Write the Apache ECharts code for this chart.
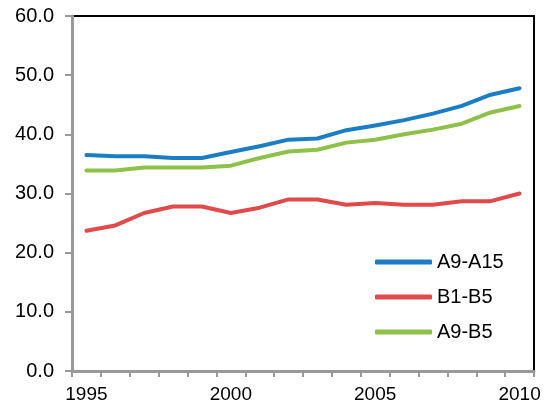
<!DOCTYPE html>
<html>
<head>
<meta charset="utf-8">
<script src="https://cdn.jsdelivr.net/npm/echarts@6/dist/echarts.min.js"></script>
<style>
  html, body { margin: 0; padding: 0; background: #fff; }
  #chart { width: 546px; height: 408px; }
</style>
</head>
<body>
<div id="chart"></div>
<script>
// Years on the horizontal axis
const years = ['1995','1996','1997','1998','1999','2000','2001','2002',
               '2003','2004','2005','2006','2007','2008','2009','2010'];

// Series values
const seriesNames = ['A9-A15', 'B1-B5', 'A9-B5'];
const a9a15 = [36.5, 36.3, 36.3, 36.0, 36.0, 37.0, 38.0, 39.1, 39.3, 40.7, 41.5, 42.4, 43.5, 44.8, 46.7, 47.8];
const b1b5  = [23.7, 24.6, 26.7, 27.8, 27.8, 26.7, 27.6, 29.0, 29.0, 28.1, 28.4, 28.1, 28.1, 28.7, 28.7, 30.0];
const a9b5  = [33.9, 33.9, 34.4, 34.4, 34.4, 34.7, 36.0, 37.1, 37.4, 38.6, 39.1, 40.0, 40.8, 41.8, 43.7, 44.8];

// Value axis range
const yMin = 0, yMax = 60, yStep = 10;

const colors = ['#1b7dc4', '#e04a4a', '#8dc149'];
const FONT = '"Liberation Sans", Arial, sans-serif';

const chart = echarts.init(document.getElementById('chart'), null, { renderer: 'canvas' });

function lineSeries(name, data, color) {
  return {
    name: name,
    type: 'line',
    data: data,
    symbol: 'none',
    smooth: false,
    lineStyle: { color: color, width: 4, cap: 'round', join: 'round' },
    itemStyle: { color: color }
  };
}

chart.setOption({
  animation: false,
  backgroundColor: '#fff',
  color: colors,
  textStyle: { fontFamily: FONT },
  grid: {
    left: 72, right: 12, top: 16, bottom: 37,
    show: true, borderColor: '#000', borderWidth: 2, backgroundColor: 'transparent'
  },
  legend: {
    orient: 'vertical',
    left: 370, top: 247,
    itemWidth: 57, itemHeight: 5, itemGap: 15,
    icon: 'roundRect',
    textStyle: { fontSize: 20, color: '#000', fontFamily: FONT, lineHeight: 20 },
    data: seriesNames
  },
  xAxis: {
    type: 'category',
    data: years,
    boundaryGap: true,
    axisLine: { lineStyle: { color: '#999', width: 3 } },
    axisTick: { show: true, interval: 0, length: 6, lineStyle: { color: '#999', width: 2 } },
    axisLabel: { interval: 4, color: '#000', fontSize: 19, fontFamily: FONT, margin: 14 },
    splitLine: { show: false }
  },
  yAxis: {
    type: 'value',
    min: yMin, max: yMax, interval: yStep,
    axisLine: { show: true, lineStyle: { color: '#999', width: 3 } },
    axisTick: { show: true, length: 7, lineStyle: { color: '#999', width: 2 } },
    axisLabel: {
      color: '#000', fontSize: 20, fontFamily: FONT, margin: 18,
      formatter: v => v.toFixed(1)
    },
    splitLine: { show: false }
  },
  series: [
    lineSeries(seriesNames[0], a9a15, colors[0]),
    lineSeries(seriesNames[1], b1b5, colors[1]),
    lineSeries(seriesNames[2], a9b5, colors[2])
  ]
});
</script>
</body>
</html>
